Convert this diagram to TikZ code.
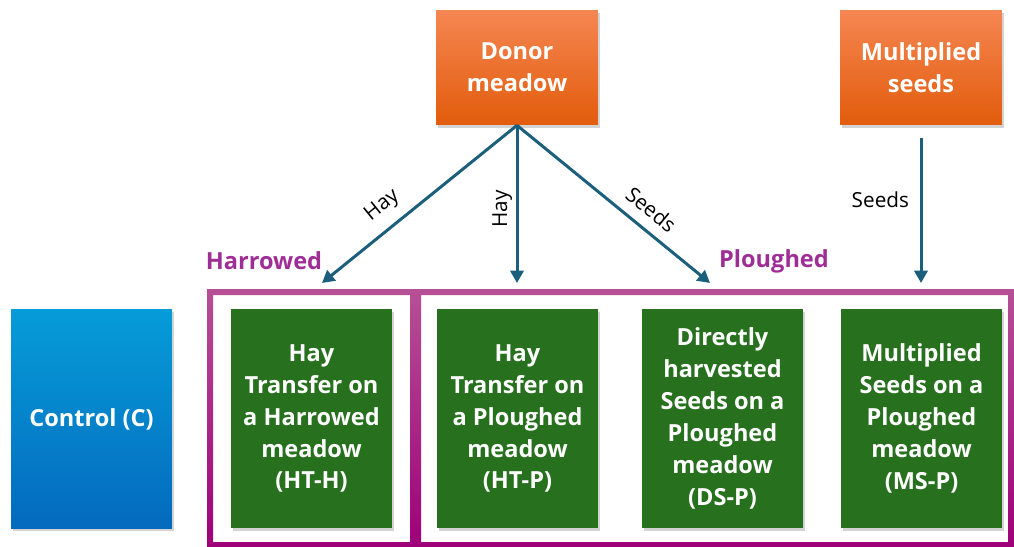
\documentclass[tikz,border=0pt]{standalone}
\usepackage{fontspec}
\setmainfont{Open Sans}
\usepackage{xcolor}
\usepackage{tikz}
\definecolor{srctop}{RGB}{245,134,82}
\definecolor{srcbot}{RGB}{226,92,12}
\definecolor{ctrltop}{RGB}{6,156,216}
\definecolor{ctrlbot}{RGB}{4,106,190}
\definecolor{trtgreen}{RGB}{38,112,30}
\definecolor{flowblue}{RGB}{27,95,125}
\definecolor{frametop}{RGB}{182,80,150}
\definecolor{framebot}{RGB}{158,0,120}
\definecolor{grouppurple}{RGB}{158,46,150}
\usetikzlibrary{arrows.meta, positioning, shadows}

\newcommand{\boxfont}{\fontsize{13.4}{18.2}\selectfont\bfseries}

\begin{document}
\begin{tikzpicture}[
    x=0.02cm, y=-0.02cm,
    srcbox/.style={rectangle, top color=srctop, bottom color=srcbot,
                minimum width=3.24cm, minimum height=2.3cm, inner sep=0pt,
                text=white, align=center, font=\boxfont,
                drop shadow={shadow xshift=1pt, shadow yshift=-1.5pt, opacity=0.35}},
    ctrlbox/.style={rectangle, top color=ctrltop, bottom color=ctrlbot,
                minimum width=3.22cm, minimum height=4.38cm, inner sep=0pt,
                text=white, align=center, font=\boxfont,
                drop shadow={shadow xshift=1pt, shadow yshift=-1.5pt, opacity=0.35}},
    trtbox/.style={rectangle, fill=trtgreen,
                minimum width=3.22cm, minimum height=4.38cm, inner sep=0pt,
                text=white, align=center, font=\boxfont,
                drop shadow={shadow xshift=1pt, shadow yshift=-1.5pt, opacity=0.35}},
    arr/.style={-{Triangle[length=7pt, width=7.5pt]}, line width=1.7pt, color=flowblue},
    frame/.style={top color=frametop, bottom color=framebot, even odd rule},
    group/.style={font=\boxfont, text=grouppurple},
    lbl/.style={font=\fontsize{11.8}{14}\selectfont, text=black, inner sep=2pt}
]
    \useasboundingbox (0,0) rectangle (1014,547);
    \clip (0,0) rectangle (1014,547);

    % groups
    \shade[frame] (207,289) rectangle (415,548) (213,295) rectangle (410,542);
    \shade[frame] (415,289) rectangle (1014,548) (421,295) rectangle (1008,542);
    \node[group] (harrowed) at (264,261) {Harrowed};
    \node[group] (ploughed) at (774,261) {Ploughed};

    % sources
    \node[srcbox] (donor)  at (517,67.5) {Donor\\meadow};
    \node[srcbox] (mseeds) at (921,67.5) {Multiplied\\seeds};

    % treatments
    \node[ctrlbox] (ctrl) at (91.5,419)  {Control (C)};
    \node[trtbox]  (htH)  at (311.5,418.5) {Hay\\Transfer on\\a Harrowed\\meadow\\(HT-H)};
    \node[trtbox]  (htP)  at (517.5,418.5) {Hay\\Transfer on\\a Ploughed\\meadow\\(HT-P)};
    \node[trtbox]  (dsP)  at (722.5,418.5) {Directly\\harvested\\Seeds on a\\Ploughed\\meadow\\(DS-P)};
    \node[trtbox]  (msP)  at (921.5,418.5) {Multiplied\\Seeds on a\\Ploughed\\meadow\\(MS-P)};

    % flows
    \coordinate (toH)  at (322,283);
    \coordinate (toP)  at (517,283);
    \coordinate (toDS) at (710,283);
    \coordinate (toMS) at (921,283);
    \draw[arr] (donor.south) -- (toH)
        node[lbl, pos=0.62, sloped, above=4pt] {Hay};
    \draw[arr] (donor.south) -- (toP)
        node[lbl, pos=0.53, rotate=90, anchor=south] {Hay};
    \draw[arr] (donor.south) -- (toDS)
        node[lbl, pos=0.63, sloped, above=4pt] {Seeds};
    \draw[arr, shorten <=7pt] (mseeds.south) -- (toMS)
        node[lbl, pos=0.47, left, xshift=-4pt] {Seeds};
\end{tikzpicture}
\end{document}
